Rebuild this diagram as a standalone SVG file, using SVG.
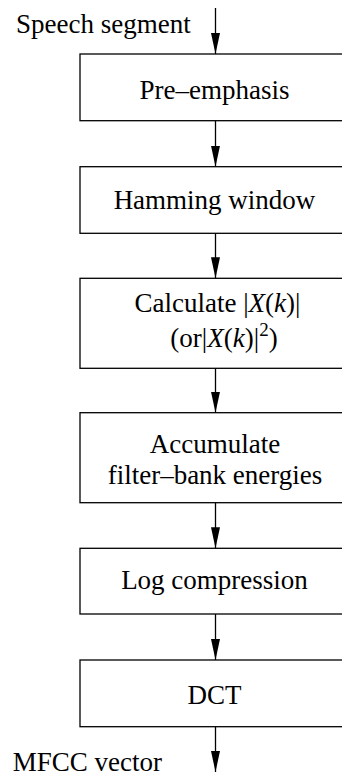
<svg xmlns="http://www.w3.org/2000/svg" width="342" height="776" viewBox="0 0 342 776">
<style>
.box{fill:#fff;stroke:#000;stroke-width:1.3}
.m{font-style:italic}
.c{stroke:#000;stroke-width:1.3;fill:none}
</style>
<defs>
<marker id="ah" markerUnits="userSpaceOnUse" markerWidth="22" markerHeight="10" refX="21" refY="4.5" orient="auto">
<path d="M0,0 L21,4.5 L0,9 z" fill="#000"/>
</marker>
</defs>
<rect width="342" height="776" fill="#fff"/>
<g id="connectors">
<line class="c" x1="215.5" y1="8" x2="215.5" y2="54" marker-end="url(#ah)"/>
<line class="c" x1="215.5" y1="120.7" x2="215.5" y2="166.7" marker-end="url(#ah)"/>
<line class="c" x1="215.5" y1="233.3" x2="215.5" y2="278.3" marker-end="url(#ah)"/>
<line class="c" x1="215.5" y1="368.3" x2="215.5" y2="412.7" marker-end="url(#ah)"/>
<line class="c" x1="215.5" y1="502.7" x2="215.5" y2="548.3" marker-end="url(#ah)"/>
<line class="c" x1="215.5" y1="614" x2="215.5" y2="660" marker-end="url(#ah)"/>
<line class="c" x1="215.5" y1="726.7" x2="215.5" y2="772" marker-end="url(#ah)"/>
</g>
<g font-family="Liberation Serif, Times New Roman, serif" font-size="27" fill="#000">
<g id="input"><text x="16" y="33">Speech segment</text></g>
<g id="preemphasis">
<rect class="box" x="80" y="54" width="280" height="66.7"/>
<text x="214.5" y="99.3" text-anchor="middle">Pre–emphasis</text>
</g>
<g id="hamming">
<rect class="box" x="80" y="166.7" width="280" height="66.6"/>
<text x="214.5" y="209.3" text-anchor="middle">Hamming window</text>
</g>
<g id="magnitude">
<rect class="box" x="80" y="278.3" width="280" height="90"/>
<text x="217.5" y="311.7" text-anchor="middle">Calculate |<tspan class="m">X</tspan>(<tspan class="m">k</tspan>)|</text>
<text x="224" y="346.7" text-anchor="middle">(or|<tspan class="m">X</tspan>(<tspan class="m">k</tspan>)|<tspan font-size="19" dy="-11">2</tspan><tspan dy="11">)</tspan></text>
</g>
<g id="filterbank">
<rect class="box" x="80" y="412.7" width="280" height="90"/>
<text x="215" y="452.7" text-anchor="middle">Accumulate</text>
<text x="215" y="484.3" text-anchor="middle">filter–bank energies</text>
</g>
<g id="log">
<rect class="box" x="80" y="548.3" width="280" height="65.7"/>
<text x="214.5" y="589.3" text-anchor="middle">Log compression</text>
</g>
<g id="dct">
<rect class="box" x="80" y="660" width="280" height="66.7"/>
<text x="214.5" y="704" text-anchor="middle">DCT</text>
</g>
<g id="output"><text x="12.7" y="770.7">MFCC vector</text></g>
</g>
</svg>
